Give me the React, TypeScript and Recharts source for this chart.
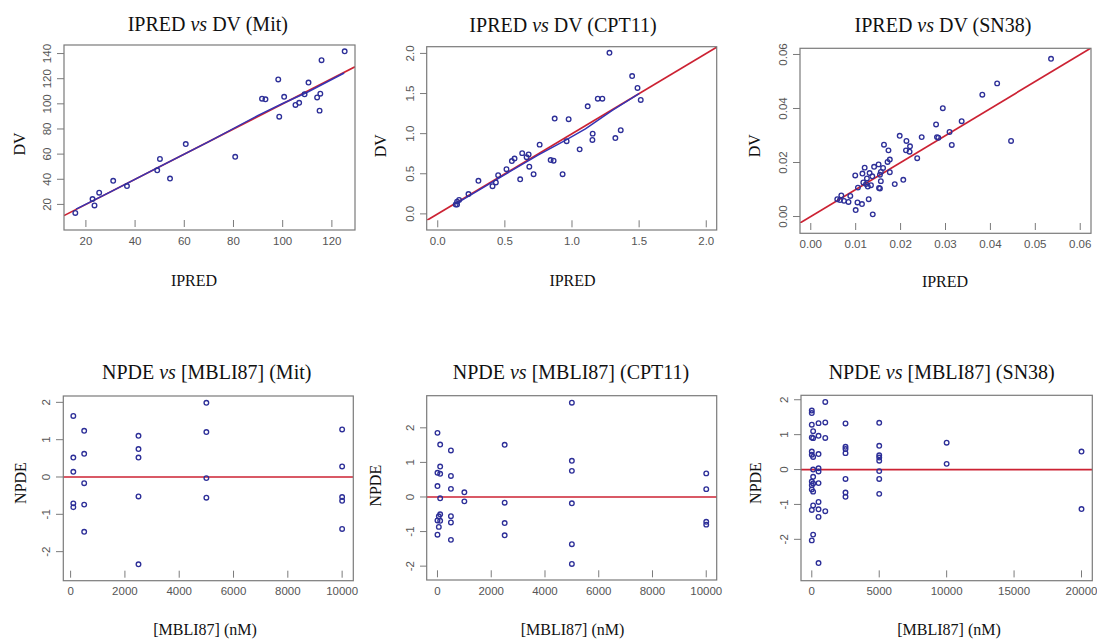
import {
  ScatterChart,
  Scatter,
  XAxis,
  YAxis,
  ReferenceLine,
} from "recharts";

// ---- data ----

// IPRED vs DV (Mit)
const mitIpred = [15.7, 22.7, 23.5, 25.4, 31.1, 36.7, 49.0, 50.1, 54.2, 60.6, 80.7, 91.6, 93.0, 98.2, 98.6, 100.6, 105.2, 106.7, 108.9, 110.5, 114.0, 115.0, 115.3, 115.8, 125.2];
const mitDv = [13.2, 24.3, 19.2, 29.3, 38.8, 34.6, 47.1, 56.2, 40.6, 68.0, 57.9, 104.1, 103.6, 119.4, 89.8, 105.6, 99.1, 100.8, 107.6, 116.9, 105.1, 94.6, 108.1, 134.7, 141.8];
const mitSmoothX = [16, 30, 50, 70, 90, 100, 110, 125];
const mitSmoothY = [16.3, 30, 50, 70, 90.8, 100.3, 109.2, 124.5];

// IPRED vs DV (CPT11)
const cptIpred = [1.279, 1.448, 1.488, 1.512, 1.192, 1.226, 1.117, 0.871, 0.975, 1.154, 1.363, 1.152, 1.323, 0.96, 1.057, 0.759, 0.629, 0.677, 0.662, 0.572, 0.552, 0.841, 0.863, 0.682, 0.512, 0.714, 0.93, 0.45, 0.303, 0.614, 0.433, 0.408, 0.229, 0.159, 0.144, 0.144, 0.134];
const cptDv = [2.008, 1.718, 1.569, 1.42, 1.435, 1.435, 1.341, 1.188, 1.18, 1.0, 1.043, 0.922, 0.945, 0.906, 0.804, 0.863, 0.757, 0.741, 0.706, 0.69, 0.659, 0.671, 0.663, 0.588, 0.557, 0.494, 0.494, 0.482, 0.412, 0.431, 0.392, 0.345, 0.247, 0.173, 0.153, 0.118, 0.118];
const cptSmoothX = [0.14, 0.3, 0.5, 0.75, 0.95, 1.1, 1.3, 1.5];
const cptSmoothY = [0.13, 0.29, 0.49, 0.735, 0.915, 1.06, 1.29, 1.5];

// IPRED vs DV (SN38)
const snIpred = [0.0535, 0.0415, 0.0382, 0.0294, 0.0336, 0.0279, 0.0309, 0.0281, 0.0284, 0.0247, 0.0314, 0.0446, 0.0198, 0.0213, 0.0221, 0.0163, 0.0173, 0.0212, 0.022, 0.0237, 0.0176, 0.0171, 0.0151, 0.0161, 0.0141, 0.012, 0.0176, 0.0156, 0.0154, 0.0099, 0.0115, 0.0131, 0.0137, 0.0125, 0.0156, 0.0117, 0.0123, 0.0134, 0.0127, 0.0105, 0.0152, 0.0154, 0.0206, 0.0187, 0.0068, 0.0088, 0.0059, 0.0065, 0.0074, 0.0084, 0.0129, 0.0104, 0.0114, 0.01, 0.0138];
const snDv = [0.0584, 0.0493, 0.0451, 0.0401, 0.0353, 0.0341, 0.0313, 0.0294, 0.0292, 0.0294, 0.0265, 0.028, 0.0299, 0.028, 0.026, 0.0266, 0.0245, 0.0245, 0.024, 0.0216, 0.0211, 0.0202, 0.0193, 0.018, 0.0184, 0.0181, 0.0164, 0.0165, 0.0155, 0.0152, 0.0159, 0.0161, 0.0149, 0.0141, 0.0131, 0.0126, 0.012, 0.0116, 0.0111, 0.0107, 0.0106, 0.0104, 0.0136, 0.012, 0.0078, 0.0076, 0.0064, 0.0061, 0.0058, 0.0054, 0.0064, 0.0052, 0.0046, 0.0024, 0.0008];

// NPDE vs [MBLI87] (Mit)
const mitConc = [100, 100, 100, 100, 100, 500, 500, 500, 500, 500, 2500, 2500, 2500, 2500, 2500, 5000, 5000, 5000, 5000, 10000, 10000, 10000, 10000, 10000];
const mitNpde = [1.636, 0.52, 0.14, -0.706, -0.808, 1.239, 0.622, -0.165, -0.74, -1.467, 1.104, 0.748, 0.52, -0.52, -2.338, 1.987, 1.205, -0.03, -0.554, 1.273, 0.283, -0.537, -0.638, -1.391];

// NPDE vs [MBLI87] (CPT11)
const cptConc = [0, 0, 0, 0, 0, 50, 50, 100, 100, 100, 100, 100, 100, 500, 500, 500, 500, 500, 500, 1000, 1000, 2500, 2500, 2500, 2500, 5000, 5000, 5000, 5000, 5000, 5000, 10000, 10000, 10000, 10000];
const cptNpde = [1.854, 0.699, 0.317, -0.68, -1.09, -0.56, -0.865, 1.517, 0.881, 0.671, -0.038, -0.5, -0.69, 1.345, 0.608, 0.235, -0.556, -0.737, -1.24, 0.136, -0.127, 1.509, -0.164, -0.755, -1.109, 2.727, 1.045, 0.755, -0.182, -1.364, -1.936, 0.682, 0.227, -0.718, -0.8];

// NPDE vs [MBLI87] (SN38)
const snConc = [0, 0, 0, 0, 0, 0, 0, 0, 0, 0, 0, 100, 100, 100, 100, 100, 100, 100, 100, 100, 500, 500, 500, 500, 500, 500, 500, 500, 500, 500, 1000, 1000, 1000, 1000, 2500, 2500, 2500, 2500, 2500, 2500, 2500, 5000, 5000, 5000, 5000, 5000, 5000, 5000, 5000, 10000, 10000, 20000, 20000];
const snNpde = [1.69, 1.62, 1.285, 0.92, 0.516, 0.425, -0.344, -0.452, -0.57, -1.158, -2.03, 1.1, 0.9, 0.362, 0.0, -0.208, -0.398, -0.633, -1.03, -1.865, 1.33, 0.968, 0.443, 0.036, -0.054, -0.389, -0.93, -1.14, -1.357, -2.68, 1.936, 1.349, 0.905, -1.195, 1.32, 0.652, 0.588, 0.47, -0.27, -0.66, -0.78, 1.339, 0.679, 0.407, 0.344, 0.253, -0.045, -0.271, -0.697, 0.769, 0.163, 0.516, -1.131];

// ticks
const mitTicksX = [20, 40, 60, 80, 100, 120];
const mitTicksY = [20, 40, 60, 80, 100, 120, 140];
const cptTicks = [0, 0.5, 1, 1.5, 2];
const snTicksX = [0, 0.01, 0.02, 0.03, 0.04, 0.05, 0.06];
const snTicksY = [0, 0.02, 0.04, 0.06];
const concTicks10k = [0, 2000, 4000, 6000, 8000, 10000];
const concTicks20k = [0, 5000, 10000, 15000, 20000];
const npdeTicks = [-2, -1, 0, 1, 2];

const NAVY = "#2d2f98";
const RED = "#cc2233";
const GREY = "#7a7a7a";
const SANS = "'Liberation Sans', Arial, sans-serif";
const SERIF = "'Liberation Serif', 'Times New Roman', serif";

const zip = (xs: number[], ys: number[]) => xs.map((x, i) => ({ x, y: ys[i] }));

type Box = { L: number; T: number; R: number; B: number };

// plot regions on the page
const BOX_MIT: Box = { L: 64, T: 45, R: 355, B: 230 };
const BOX_CPT: Box = { L: 426.7, T: 46.7, R: 716.7, B: 230 };
const BOX_SN: Box = { L: 800, T: 48.3, R: 1091, B: 233.3 };
const BOX_NMIT: Box = { L: 63.3, T: 396, R: 353.3, B: 580.7 };
const BOX_NCPT: Box = { L: 426.7, T: 395.7, R: 716.7, B: 580 };
const BOX_NSN: Box = { L: 801, T: 395.3, R: 1092.3, B: 580.7 };
const BOXES = [BOX_MIT, BOX_CPT, BOX_SN, BOX_NMIT, BOX_NCPT, BOX_NSN];

type PanelProps = {
  box: Box;
  xDomain: [number, number];
  yDomain: [number, number];
  xTicks: number[];
  yTicks: number[];
  xFmt: (v: number) => string;
  yFmt: (v: number) => string;
  points: { x: number; y: number }[];
  smooth?: { x: number; y: number }[];
  identity?: boolean;
  zeroLine?: boolean;
};

const YTick = (props: any) => {
  const { x, y, payload, fmt } = props;
  return (
    <text
      transform={`translate(${x - 8.5},${y}) rotate(-90)`}
      textAnchor="middle"
      dy="0.36em"
      fill="#555"
      fontSize={11.5}
      fontFamily={SANS}
    >
      {fmt(payload.value)}
    </text>
  );
};

const Dot = (props: any) => (
  <circle cx={props.cx} cy={props.cy} r={2.3} fill="none" stroke={NAVY} strokeWidth={1.35} />
);

function Panel({ box, xDomain, yDomain, xTicks, yTicks, xFmt, yFmt, points, smooth, identity, zeroLine }: PanelProps) {
  const w = box.R - box.L;
  const h = box.B - box.T;
  const lo = Math.max(xDomain[0], yDomain[0]);
  const hi = Math.min(xDomain[1], yDomain[1]);
  return (
    <div style={{ position: "absolute", left: box.L - 60, top: box.T - 10 }}>
      <ScatterChart width={w + 70} height={h + 50} margin={{ top: 10, right: 10, left: 0, bottom: 0 }}>
        <XAxis
          type="number"
          dataKey="x"
          domain={xDomain}
          ticks={xTicks}
          interval={0}
          allowDataOverflow
          height={50}
          axisLine={false}
          tickLine={{ stroke: GREY }}
          tickSize={7}
          tickMargin={9.6}
          tickFormatter={xFmt}
          tick={{ fill: "#555", fontSize: 11.5, fontFamily: SANS }}
        />
        <YAxis
          type="number"
          dataKey="y"
          domain={yDomain}
          ticks={yTicks}
          interval={0}
          allowDataOverflow
          width={60}
          axisLine={false}
          tickLine={{ stroke: GREY }}
          tickSize={7}
          tick={(p: any) => <YTick {...p} fmt={yFmt} />}
        />
        {smooth && (
          <Scatter
            data={smooth}
            line={{ stroke: "#3535b5", strokeWidth: 1.5 }}
            lineType="joint"
            shape={() => <g />}
            isAnimationActive={false}
          />
        )}
        <Scatter data={points} shape={Dot} isAnimationActive={false} />
        {identity && (
          <ReferenceLine
            segment={[
              { x: lo, y: lo },
              { x: hi, y: hi },
            ]}
            stroke={RED}
            strokeWidth={1.7}
            ifOverflow="hidden"
          />
        )}
        {zeroLine && <ReferenceLine y={0} stroke={RED} strokeWidth={1.7} />}
      </ScatterChart>
    </div>
  );
}

const Title = ({ x, y, pre, post }: { x: number; y: number; pre: string; post: string }) => (
  <text x={x} y={y} textAnchor="middle" fontFamily={SERIF} fontSize={20} fill="#111">
    {pre} <tspan fontStyle="italic">vs</tspan> {post}
  </text>
);

const XTitle = ({ x, y, text }: { x: number; y: number; text: string }) => (
  <text x={x} y={y} textAnchor="middle" fontFamily={SERIF} fontSize={16} fill="#111">
    {text}
  </text>
);

const YTitle = ({ x, y, text }: { x: number; y: number; text: string }) => (
  <text
    transform={`translate(${x},${y}) rotate(-90)`}
    textAnchor="middle"
    dy="0.35em"
    fontFamily={SERIF}
    fontSize={16}
    fill="#111"
  >
    {text}
  </text>
);

const f0 = (v: number) => String(v);
const f1 = (v: number) => v.toFixed(1);
const f2 = (v: number) => v.toFixed(2);

export default function App() {
  return (
    <div
      style={{
        position: "absolute",
        left: 0,
        top: 0,
        width: 1097,
        height: 639,
        background: "#fff",
        overflow: "hidden",
      }}
    >
      <Panel
        box={BOX_MIT}
        xDomain={[11.1, 129.4]}
        yDomain={[7.6, 146.8]}
        xTicks={mitTicksX}
        yTicks={mitTicksY}
        xFmt={f0}
        yFmt={f0}
        points={zip(mitIpred, mitDv)}
        smooth={zip(mitSmoothX, mitSmoothY)}
        identity
      />
      <Panel
        box={BOX_CPT}
        xDomain={[-0.08, 2.08]}
        yDomain={[-0.08, 2.08]}
        xTicks={cptTicks}
        yTicks={cptTicks}
        xFmt={f1}
        yFmt={f1}
        points={zip(cptIpred, cptDv)}
        smooth={zip(cptSmoothX, cptSmoothY)}
        identity
      />
      <Panel
        box={BOX_SN}
        xDomain={[-0.0024, 0.0624]}
        yDomain={[-0.0024, 0.0624]}
        xTicks={snTicksX}
        yTicks={snTicksY}
        xFmt={f2}
        yFmt={f2}
        points={zip(snIpred, snDv)}
        identity
      />
      <Panel
        box={BOX_NMIT}
        xDomain={[-280, 10400]}
        yDomain={[-2.51, 2.17]}
        xTicks={concTicks10k}
        yTicks={npdeTicks}
        xFmt={f0}
        yFmt={f0}
        points={zip(mitConc, mitNpde)}
        zeroLine
      />
      <Panel
        box={BOX_NCPT}
        xDomain={[-390, 10400]}
        yDomain={[-2.12, 2.92]}
        xTicks={concTicks10k}
        yTicks={npdeTicks}
        xFmt={f0}
        yFmt={f0}
        points={zip(cptConc, cptNpde)}
        zeroLine
      />
      <Panel
        box={BOX_NSN}
        xDomain={[-800, 20800]}
        yDomain={[-2.89, 2.136]}
        xTicks={concTicks20k}
        yTicks={npdeTicks}
        xFmt={f0}
        yFmt={f0}
        points={zip(snConc, snNpde)}
        zeroLine
      />
      <svg
        width={1097}
        height={639}
        style={{ position: "absolute", left: 0, top: 0, pointerEvents: "none" }}
      >
        {BOXES.map((b, i) => (
          <rect
            key={i}
            x={b.L}
            y={b.T}
            width={b.R - b.L}
            height={b.B - b.T}
            fill="none"
            stroke={GREY}
            strokeWidth={1.2}
          />
        ))}

        <Title x={207.8} y={30.7} pre="IPRED" post="DV (Mit)" />
        <Title x={563} y={31.7} pre="IPRED" post="DV (CPT11)" />
        <Title x={943} y={31.7} pre="IPRED" post="DV (SN38)" />
        <Title x={206.7} y={379.3} pre="NPDE" post="[MBLI87] (Mit)" />
        <Title x={571} y={379.3} pre="NPDE" post="[MBLI87] (CPT11)" />
        <Title x={941.7} y={379.3} pre="NPDE" post="[MBLI87] (SN38)" />

        <XTitle x={194} y={285.7} text="IPRED" />
        <XTitle x={572.5} y={285.7} text="IPRED" />
        <XTitle x={945} y={286.7} text="IPRED" />
        <XTitle x={205} y={635} text="[MBLI87] (nM)" />
        <XTitle x={572.5} y={635} text="[MBLI87] (nM)" />
        <XTitle x={949} y={635} text="[MBLI87] (nM)" />

        <YTitle x={19} y={144} text="DV" />
        <YTitle x={380.8} y={145.8} text="DV" />
        <YTitle x={754} y={145.8} text="DV" />
        <YTitle x={20} y={483} text="NPDE" />
        <YTitle x={375} y={485.7} text="NPDE" />
        <YTitle x={755.3} y={483} text="NPDE" />
      </svg>
    </div>
  );
}
